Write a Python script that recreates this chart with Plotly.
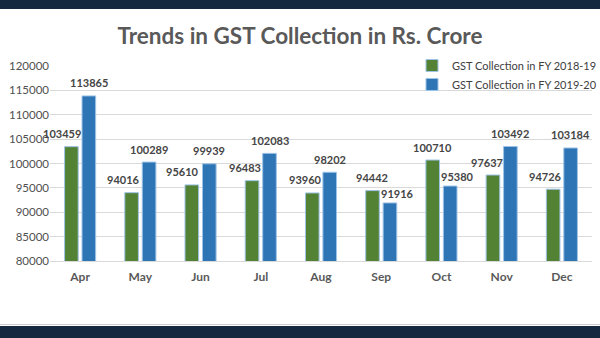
import plotly.graph_objects as go

months = ["Apr", "May", "Jun", "Jul", "Aug", "Sep", "Oct", "Nov", "Dec"]
fy1819 = [103459, 94016, 95610, 96483, 93960, 94442, 100710, 97637, 94726]
fy1920 = [113865, 100289, 99939, 102083, 98202, 91916, 95380, 103492, 103184]
series_names = ["GST Collection in FY 2018-19", "GST Collection in FY 2019-20"]
yticks = list(range(80000, 120001, 5000))

# label nudges (pixels) as placed in the original chart
label_dx_1819 = [-9, -8.5, -9.5, -7, -6.5, 0, 0, -5.5, -7.5]
label_dx_1920 = [0, 0, 0, 0, 0, 8, 7, 0, 0]

W, H = 600, 338
def py(px):
    return (H - px) / H

fig = go.Figure()
annotations = []
for name, vals, col, offs, sgn in [(series_names[0], fy1819, "#548235", label_dx_1819, -1),
                                   (series_names[1], fy1920, "#2E75B6", label_dx_1920, 1)]:
    fig.add_trace(go.Bar(
        x=months, y=vals, name=name,
        marker=dict(color=col, line=dict(color="#9DC3E6", width=1)),
    ))
    for m, v, dx in zip(months, vals, offs):
        annotations.append(dict(
            x=m, y=v, xref="x", yref="y", text=str(v), showarrow=False,
            xanchor="center", yanchor="middle",
            xshift=sgn * 8.75 + dx, yshift=13 if dx <= 0 else 9.5,
            font=dict(family="Lato", size=11, color="#454545", weight="bold")))

fig.update_layout(
    width=W, height=H,
    margin=dict(l=0, r=0, t=0, b=0, autoexpand=False),
    paper_bgcolor="white", plot_bgcolor="white",
    barmode="group", bargap=0.42, bargroupgap=0.22,
    title=dict(text="<b>Trends in GST Collection in Rs. Crore</b>",
               x=0.5, xanchor="center", y=py(36), yanchor="middle",
               font=dict(family="Lato", size=22.5, color="#595959")),
    legend=dict(x=412 / W, xanchor="left", y=py(51), yanchor="top",
                font=dict(family="Lato", size=11, color="#404040"),
                bgcolor="rgba(0,0,0,0)", tracegroupgap=0, itemwidth=30),
    showlegend=True,
    annotations=annotations,
    xaxis=dict(domain=[50 / W, 592 / W], range=[-0.5, len(months) - 0.5],
               showline=True, linecolor="#D9D9D9",
               tickfont=dict(family="Lato", size=12, color="#595959", weight="bold"),
               ticks="", showgrid=False, automargin=False, ticklabelstandoff=5),
    yaxis=dict(domain=[py(261), py(66)], range=[80000, 120000],
               tickvals=yticks, ticktext=[str(t) for t in yticks],
               showgrid=True, gridcolor="#D9D9D9", gridwidth=1,
               zeroline=False, showline=False, ticks="", automargin=False,
               tickfont=dict(family="Lato", size=11.5, color="#505050")),
    shapes=[
        dict(type="rect", xref="paper", yref="paper", x0=0, x1=1, y0=py(9), y1=1,
             fillcolor="#14293F", line=dict(width=0), layer="above"),
        dict(type="rect", xref="paper", yref="paper", x0=0, x1=1, y0=0, y1=py(326),
             fillcolor="#14293F", line=dict(width=0), layer="above"),
        dict(type="line", xref="paper", yref="paper", x0=0, x1=1, y0=py(324.5), y1=py(324.5),
             line=dict(color="#C8CCD0", width=1), layer="above"),
    ],
)

fig.write_html("out.html",
               post_script="document.body.style.margin='0';document.body.style.overflow='hidden';")
